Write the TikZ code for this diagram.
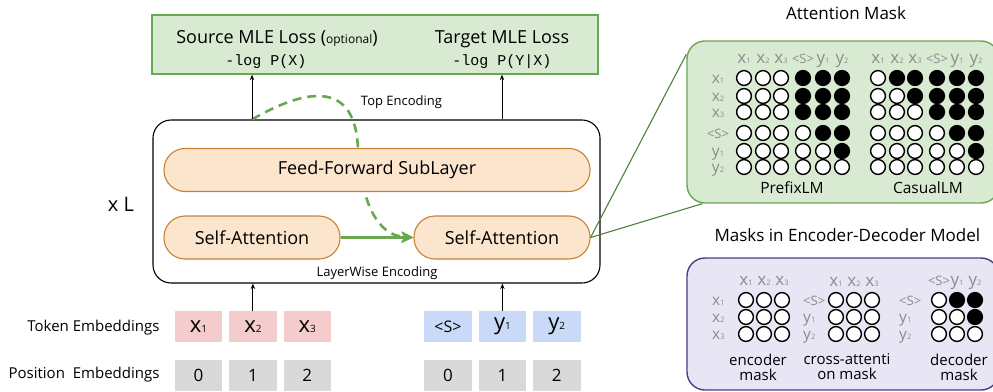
\documentclass[tikz,border=0pt]{standalone}
\usepackage{fontspec}
\setmainfont{Open Sans}
\setmonofont{Liberation Mono}
\usetikzlibrary{arrows.meta, positioning}

\definecolor{lossfill}{HTML}{D9EAD3}
\definecolor{lossline}{HTML}{6AA84F}
\definecolor{subfill}{HTML}{FCE5CD}
\definecolor{subline}{HTML}{C98134}
\definecolor{xfill}{HTML}{F4CCCC}
\definecolor{yfill}{HTML}{C9DAF8}
\definecolor{posfill}{HTML}{D9D9D9}
\definecolor{maskfill}{HTML}{E8E5F4}
\definecolor{maskline}{HTML}{4B3C8C}
\definecolor{labgray}{HTML}{8C8C8C}

\newcommand{\fsz}[1]{\fontsize{#1}{#1}\selectfont}
\newcommand{\tsub}[1]{{\fsz{10}#1}}
\newcommand{\gsub}[1]{{\fsz{7.5}#1}}
\newcommand{\gS}{{\fsz{13}<S>}}

\begin{document}
\begin{tikzpicture}[
            x=1pt, y=-1pt,
            >={Stealth[length=5.5pt,width=4.5pt]},
            node distance=6.5pt,
            lossbox/.style={draw=lossline, fill=lossfill, line width=1.3pt, minimum width=446pt, minimum height=59pt, inner sep=0pt},
            layerbox/.style={draw=black, rounded corners=18pt, line width=1.1pt, minimum width=447pt, minimum height=163pt, inner sep=0pt},
            sublayer/.style={draw=subline, fill=subfill, line width=1.1pt, rounded corners=21pt, minimum height=43pt, inner sep=0pt, font=\fsz{18}},
            tokx/.style={fill=xfill, minimum width=47.5pt, minimum height=31pt, inner sep=0pt, font=\fsz{22}},
            toky/.style={tokx, fill=yfill},
            posbox/.style={tokx, fill=posfill, font=\fsz{17}},
            panel/.style={rounded corners=18pt, line width=1.4pt, minimum width=312pt, inner sep=0pt},
            dot/.style={circle, draw=black, line width=1.4pt, minimum size=14.8pt, inner sep=0pt},
            gridlab/.style={text=labgray, font=\fsz{17}, inner sep=0pt},
            rowlab/.style={gridlab, font=\fsz{15.5}},
            caption/.style={font=\fsz{15}, align=center, inner sep=0pt},
            greenlink/.style={draw=lossline, line width=2.6pt, -{Stealth[length=12pt,width=11pt,inset=3pt]}},
            zoomline/.style={draw=lossline!75!black, line width=1.1pt}
        ]
        \useasboundingbox (0,0) rectangle (993,391);

        % Perdite in alto
        \node[lossbox] (loss) at (375,44.5) {};
        \node[anchor=base, font=\fsz{18}] (srcloss) at (277,43) {Source MLE Loss ({\fsz{12}optional})};
        \node[anchor=base, font=\ttfamily\fsz{15}] (srclog) at (266,65) {-log P(X)};
        \node[anchor=base, font=\fsz{18}] (tgtloss) at (502,43) {Target MLE Loss};
        \node[anchor=base, font=\ttfamily\fsz{15}] (tgtlog) at (502,65) {-log P(Y|X)};

        % Blocco del layer
        \node[layerbox] (enc) at (376.5,201.5) {};
        \node[sublayer, minimum width=176pt] (sa1) at (252,237.5) {Self-Attention};
        \node[sublayer, minimum width=176pt] (sa2) at (502,237.5) {Self-Attention};
        \node[anchor=base, font=\fsz{13}] (lwenc) at (377,276.5) {LayerWise Encoding};
        \node[anchor=base, font=\fsz{20}] (nlayers) at (121,211) {x L};

        % Collegamento tratteggiato (top encoding)
        \draw[greenlink, dash pattern=on 9pt off 6pt] (enc.north -| sa1) .. controls (310,86) and (356,82) .. (358,150) .. controls (363,218) and (385,236) .. (sa2.west);
        \node[sublayer, minimum width=426pt] (ffn) at (377,170) {Feed-Forward SubLayer};
        \node[anchor=base, font=\fsz{13}] (topenc) at (401.5,105) {Top Encoding};
        \draw[greenlink] (sa1) -- (sa2);

        % Frecce verso le perdite
        \draw[->, line width=0.9pt] (enc.north -| sa1) -- (loss.south -| sa1);
        \draw[->, line width=0.9pt] (enc.north -| sa2) -- (loss.south -| sa2);

        % Embedding
        \node[tokx] (tx1) at (198.5,326.3) {x\tsub{1}};
        \node[tokx, right=of tx1] (tx2) {x\tsub{2}};
        \node[tokx, right=of tx2] (tx3) {x\tsub{3}};
        \node[toky, font=\fsz{16}] (ty0) at (448,326.3) {<S>};
        \node[toky, right=of ty0] (ty1) {y\tsub{1}};
        \node[toky, right=of ty1] (ty2) {y\tsub{2}};
        \node[posbox, below=17.5pt of tx1] (px1) {0};
        \node[posbox, below=17.5pt of tx2] (px2) {1};
        \node[posbox, below=17.5pt of tx3] (px3) {2};
        \node[posbox, below=17.5pt of ty0] (py0) {0};
        \node[posbox, below=17.5pt of ty1] (py1) {1};
        \node[posbox, below=17.5pt of ty2] (py2) {2};
        \node[anchor=base east, font=\fsz{15}] (toklab) at (163,331.5) {Token Embeddings};
        \node[anchor=base east, font=\fsz{15}] (poslab) at (163,378.5) {Position\ \ Embeddings};
        \draw[->, line width=0.9pt] (tx2.north) -- (enc.south -| tx2);
        \draw[->, line width=0.9pt] (ty1.north) -- (enc.south -| ty1);

        % Pannello Attention Mask
        \node[anchor=base, font=\fsz{17}] (attntitle) at (846,19) {Attention Mask};
        \node[panel, draw=lossline, fill=lossfill, minimum height=162pt] (attn) at (843,122) {};
        \draw[zoomline] (sa2.east) -- ([yshift=-14pt]attn.north west);
        \draw[zoomline] (sa2.east) -- ([xshift=16pt]attn.south west);
        \foreach \c/\cx/\lab in {1/744/x\gsub{1}, 2/763/x\gsub{2}, 3/781/x\gsub{3}, 4/803/\gS, 5/823/y\gsub{1}, 6/842/y\gsub{2}}{
            \node[gridlab, anchor=base] (prec\c) at (\cx,63) {\lab};
            \node[gridlab, anchor=base] (cauc\c) at (\cx+134,63) {\lab};
        }
        \foreach \r/\ry/\lab in {1/78/x\gsub{1}, 2/96/x\gsub{2}, 3/112/x\gsub{3}, 4/133/\gS, 5/151/y\gsub{1}, 6/167/y\gsub{2}}{
            \node[rowlab, anchor=base] (prer\r) at (718,\ry+5) {\lab};
            \foreach \c/\cx in {1/744,2/763,3/781,4/803,5/823,6/842}{
                \def\dotcol{white}
                \ifnum\c>\r \ifnum\c>3 \def\dotcol{black}\fi\fi
                \node[dot, fill=\dotcol] (pre\r\c) at (\cx,\ry) {};
                \def\dotcol{white}
                \ifnum\c>\r \def\dotcol{black}\fi
                \node[dot, fill=\dotcol] (cau\r\c) at (\cx+134,\ry) {};
            }
        }
        \node[anchor=base, font=\fsz{15.5}] (prefixlab) at (792,193) {PrefixLM};
        \node[anchor=base, font=\fsz{15.5}] (causallab) at (928,193) {CasualLM};

        % Pannello encoder-decoder
        \node[anchor=base west, font=\fsz{17}] (edtitle) at (711,241.5) {Masks in Encoder-Decoder Model};
        \node[panel, draw=maskline, fill=maskfill, minimum height=132pt] (encdec) at (843,324) {};
        \foreach \c/\cx/\lab/\dlab in {1/746/x\gsub{1}/\gS, 2/764/x\gsub{2}/y\gsub{1}, 3/782/x\gsub{3}/y\gsub{2}}{
            \node[gridlab, anchor=base] (encc\c) at (\cx,285.5) {\lab};
            \node[gridlab, anchor=base] (crsc\c) at (\cx+90,286.5) {\lab};
            \node[gridlab, anchor=base] (decc\c) at (\cx+193,285.5) {\dlab};
        }
        \foreach \r/\ry/\lab/\dlab in {1/300/x\gsub{1}/\gS, 2/317/x\gsub{2}/y\gsub{1}, 3/334/x\gsub{3}/y\gsub{2}}{
            \node[rowlab, anchor=base west] (encr\r) at (712,\ry+5) {\lab};
            \node[rowlab, anchor=base west] (crsr\r) at (803,\ry+5) {\dlab};
            \node[rowlab, anchor=base west] (decr\r) at (899,\ry+5) {\dlab};
            \foreach \c/\cx in {1/746,2/764,3/782}{
                \node[dot, fill=white] (enc\r\c) at (\cx,\ry) {};
                \node[dot, fill=white] (crs\r\c) at (\cx+90,\ry) {};
                \def\dotcol{white}
                \ifnum\c>\r \def\dotcol{black}\fi
                \node[dot, fill=\dotcol] (dec\r\c) at (\cx+193,\ry) {};
            }
        }
        \node[caption] (encmask) at (758,367) {encoder\\mask};
        \node[caption] (crsmask) at (847,367) {cross-attenti\\on mask};
        \node[caption] (decmask) at (959,367) {decoder\\mask};

\end{tikzpicture}
\end{document}
